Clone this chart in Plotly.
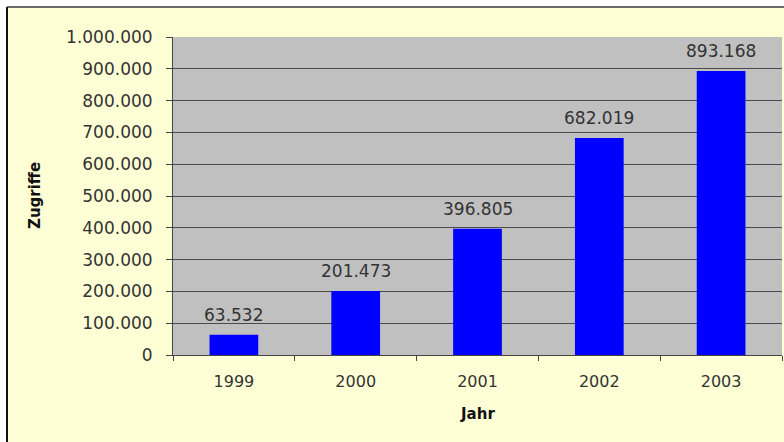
import plotly.graph_objects as go

years = ["1999", "2000", "2001", "2002", "2003"]
hits = [63532, 201473, 396805, 682019, 893168]
y_ticks = [0, 100000, 200000, 300000, 400000, 500000, 600000, 700000, 800000, 900000, 1000000]

W, H = 784, 442
L, R, T, B = 173, 2, 37, 87
pw, ph = W - L - R, H - T - B

def px_x(x):
    return (x - L) / pw

def px_y(y):
    return (H - B - y) / ph

FONT = "DejaVu Sans"
TXT = "#333333"
BG = "#FFFFD6"

fig = go.Figure()
fig.add_trace(go.Bar(
    x=years, y=hits, width=0.4,
    marker=dict(color="#0000FF", line=dict(width=0)),
    hoverinfo="skip",
))

annotations = []
for i, v in enumerate(hits):
    annotations.append(dict(
        x=i, y=v, xref="x", yref="y",
        text=f"{v:,}".replace(",", "."),
        showarrow=False, yanchor="bottom", xanchor="center", yshift=8,
        font=dict(family=FONT, size=17, color=TXT),
    ))

annotations.append(dict(
    x=px_x(35), y=0.5, xref="paper", yref="paper", text="<b>Zugriffe</b>",
    textangle=-90, showarrow=False, xanchor="center", yanchor="middle",
    font=dict(family=FONT, size=15, color="#111"),
))
annotations.append(dict(
    x=0.5, y=px_y(414), xref="paper", yref="paper", text="<b>Jahr</b>",
    showarrow=False, xanchor="center", yanchor="middle",
    font=dict(family=FONT, size=15, color="#111"),
))

shapes = [
    dict(type="rect", xref="paper", yref="paper", x0=-0.5, x1=px_x(7), y0=-0.5, y1=1.5,
         fillcolor="white", line=dict(width=0), layer="above"),
    dict(type="rect", xref="paper", yref="paper", x0=-0.5, x1=1.5, y0=px_y(7), y1=1.5,
         fillcolor="white", line=dict(width=0), layer="above"),
    dict(type="line", xref="paper", yref="paper", x0=px_x(7), x1=1.5, y0=px_y(7), y1=px_y(7),
         line=dict(color="#6a6a6a", width=2), layer="above"),
    dict(type="line", xref="paper", yref="paper", x0=px_x(7), x1=px_x(7), y0=-0.5, y1=px_y(7),
         line=dict(color="#111111", width=2), layer="above"),
]

fig.update_layout(
    width=W, height=H,
    margin=dict(l=L, r=R, t=T, b=B, pad=0),
    paper_bgcolor=BG, plot_bgcolor="#C0C0C0",
    separators=",.",
    showlegend=False,
    annotations=annotations,
    shapes=shapes,
    xaxis=dict(
        type="category", range=[-0.5, 4.5], tickson="boundaries",
        ticks="outside", ticklen=5, tickcolor="#444", showline=True, linecolor="#444", linewidth=1,
        showgrid=False, tickfont=dict(family=FONT, size=16, color=TXT), ticklabelstandoff=12,
        fixedrange=True,
    ),
    yaxis=dict(
        range=[0, 1000000], tickvals=y_ticks, tickformat=",d",
        ticks="outside", ticklen=6, tickcolor="#444", showline=True, linecolor="#444", linewidth=1,
        showgrid=True, gridcolor="#4a4a4a", gridwidth=1, zeroline=False,
        tickfont=dict(family=FONT, size=17, color=TXT), ticklabelstandoff=10,
        fixedrange=True,
    ),
)

fig.write_html(
    "out.html",
    config={"displayModeBar": False},
    post_script="document.body.style.margin='0';document.body.style.overflow='hidden';",
)
